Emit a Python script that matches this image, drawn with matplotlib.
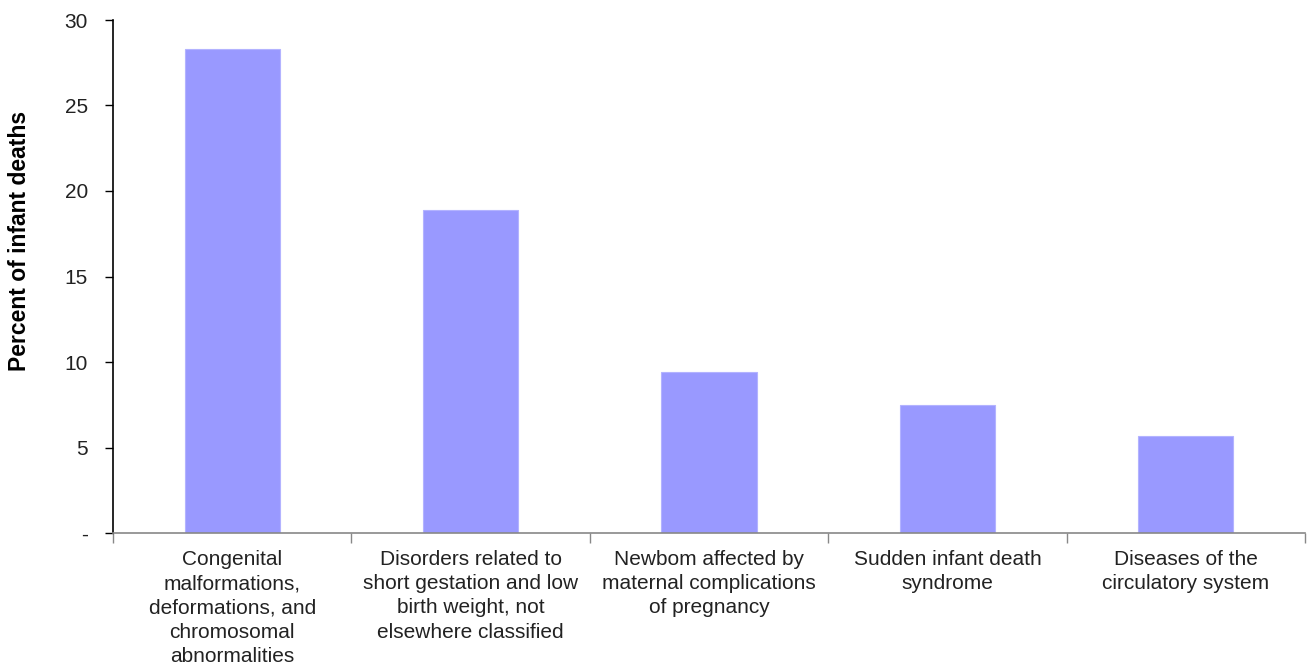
import matplotlib
matplotlib.use("Agg")
import matplotlib.pyplot as plt
import numpy as np

categories = [
    "Congenital\nmalformations,\ndeformations, and\nchromosomal\nabnormalities",
    "Disorders related to\nshort gestation and low\nbirth weight, not\nelsewhere classified",
    "Newbom affected by\nmaternal complications\nof pregnancy",
    "Sudden infant death\nsyndrome",
    "Diseases of the\ncirculatory system",
]
values = [28.3, 18.9, 9.4, 7.5, 5.7]
yticks = [0, 5, 10, 15, 20, 25, 30]
ytick_labels = ["-", "5", "10", "15", "20", "25", "30"]

plt.rcParams['font.family'] = ['Liberation Sans', 'DejaVu Sans']

W, H = 1307, 666
fig = plt.figure(figsize=(W / 100, H / 100), dpi=100)
ax = fig.add_axes([113 / W, (H - 533) / H, (1305 - 113) / W, (533 - 20) / H])

x = np.arange(len(categories))
ax.bar(x, values, width=0.4, color="#9999FF", edgecolor="#B3B3FF", linewidth=0.8, zorder=2)

ax.set_xlim(-0.5, len(categories) - 0.5)
ax.set_ylim(0, 30)
ax.set_yticks(yticks)
ax.set_yticklabels(ytick_labels, fontsize=15, color="#222222")
ax.tick_params(axis="y", direction="out", length=6, width=1, color="black", pad=12)

ax.set_xticks(x)
ax.set_xticklabels(categories, fontsize=15, color="#222222", linespacing=1.36)
ax.tick_params(axis="x", length=0, pad=12)
ax.set_xticks(np.arange(len(categories) + 1) - 0.5, minor=True)
ax.tick_params(axis="x", which="minor", direction="out", length=7, width=1, color="#888888")

for side in ["top", "right"]:
    ax.spines[side].set_visible(False)
ax.spines["left"].set_color("black")
ax.spines["left"].set_linewidth(1.2)
ax.spines["bottom"].set_color("#888888")
ax.spines["bottom"].set_linewidth(1.2)

fig.text(20 / W, (H - 241) / H, "Percent of infant deaths", rotation=90,
         fontsize=16.5, fontweight="bold", ha="center", va="center")

fig.savefig("out.png", dpi=100)
